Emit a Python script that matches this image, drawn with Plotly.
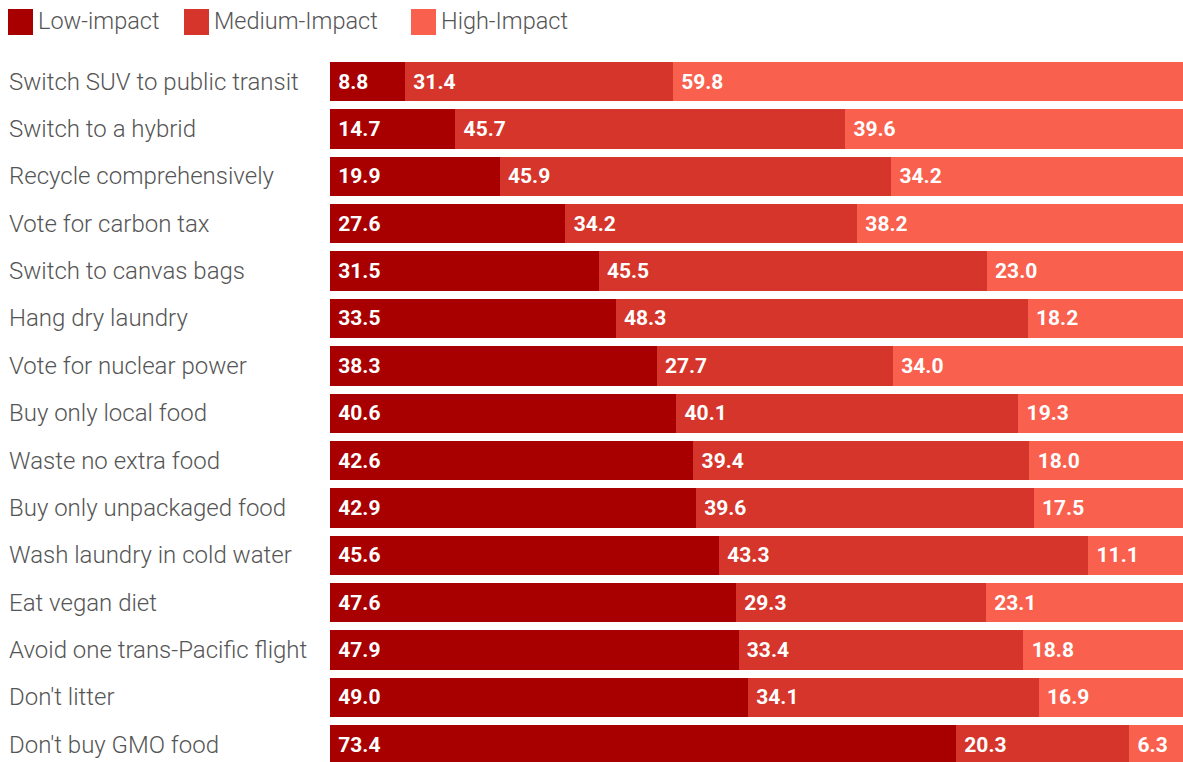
import plotly.graph_objects as go

categories = [
    "Switch SUV to public transit", "Switch to a hybrid", "Recycle comprehensively",
    "Vote for carbon tax", "Switch to canvas bags", "Hang dry laundry",
    "Vote for nuclear power", "Buy only local food", "Waste no extra food",
    "Buy only unpackaged food", "Wash laundry in cold water", "Eat vegan diet",
    "Avoid one trans-Pacific flight", "Don't litter", "Don't buy GMO food",
]
low = [8.8, 14.7, 19.9, 27.6, 31.5, 33.5, 38.3, 40.6, 42.6, 42.9, 45.6, 47.6, 47.9, 49.0, 73.4]
medium = [31.4, 45.7, 45.9, 34.2, 45.5, 48.3, 27.7, 40.1, 39.4, 39.6, 43.3, 29.3, 33.4, 34.1, 20.3]
high = [59.8, 39.6, 34.2, 38.2, 23.0, 18.2, 34.0, 19.3, 18.0, 17.5, 11.1, 23.1, 18.8, 16.9, 6.3]
series_names = ["Low-impact", "Medium-Impact", "High-Impact"]
colors = ["#a80000", "#d5352a", "#f9604d"]

W, H = 1183, 762
L, T = 330, 58
PW, PH = W - L, H - T
pitch = 47.36

fig = go.Figure()
for name, vals, col in zip(series_names, [low, medium, high], colors):
    fig.add_trace(go.Bar(
        y=categories, x=vals, name=name, orientation="h",
        marker=dict(color=col, line=dict(width=0)),
        text=[f"\u00a0{v:.1f}" for v in vals], textposition="inside",
        insidetextanchor="start", constraintext="none",
        textfont=dict(family="Roboto", size=21, color="white", weight="bold"),
        showlegend=False, hoverinfo="x+name",
    ))

# category labels, left aligned
for c in categories:
    fig.add_annotation(x=(7 - L) / PW, xref="paper", y=c, yref="y",
                       text=c, showarrow=False, xanchor="left", yanchor="middle",
                       font=dict(family="Roboto", size=24, color="#555555", weight=300))

# manual legend
leg_x = [8, 184, 411]
for name, col, lx in zip(series_names, colors, leg_x):
    fig.add_shape(type="rect", xref="paper", yref="paper",
                  x0=(lx - L) / PW, x1=(lx + 25 - L) / PW,
                  y0=(H - 9) / PH, y1=(H - 35) / PH,
                  fillcolor=col, line=dict(width=0))
    fig.add_annotation(x=(lx + 28 - L) / PW, xref="paper", y=(H - 21) / PH, yref="paper",
                       text=name, showarrow=False, xanchor="left", yanchor="middle",
                       font=dict(family="Roboto", size=23.5, color="#555555", weight=300))

units = PH / pitch
fig.update_layout(
    width=W, height=H, barmode="stack", bargap=8 / pitch,
    margin=dict(l=L, r=0, t=T, b=0),
    plot_bgcolor="white", paper_bgcolor="white",
    xaxis=dict(range=[0, 100], visible=False, fixedrange=True),
    yaxis=dict(categoryorder="array", categoryarray=categories,
               range=[-0.5 + units, -0.5], showticklabels=False,
               showgrid=False, zeroline=False, fixedrange=True),
    font=dict(family="Roboto"),
)
fig.write_html("out.html", config={"displayModeBar": False},
               post_script="document.body.style.margin='0';document.body.style.padding='0';document.body.style.overflow='hidden';")
